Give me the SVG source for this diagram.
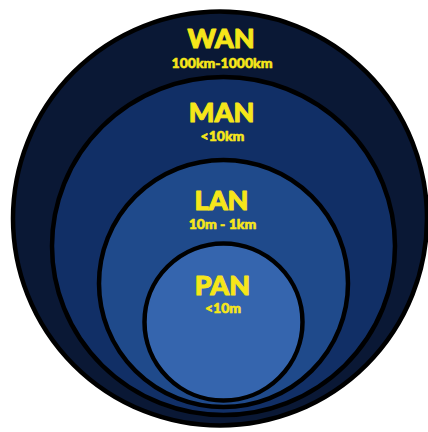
<svg xmlns="http://www.w3.org/2000/svg" width="428" height="432" viewBox="0 0 428 432">
<style>
.ring{stroke:#000;stroke-width:4.5}
.t{font-family:Lato,"Open Sans","Liberation Sans",sans-serif;font-weight:900;fill:#f6e61a;stroke:#f6e61a;text-anchor:middle;stroke-linejoin:round}
.big{font-size:27px;stroke-width:1}
.small{font-size:14px;stroke-width:0.6}
</style>
<rect width="428" height="432" fill="#ffffff"/>
<g id="wan">
<circle class="ring" cx="220" cy="218.5" r="207" fill="#0a1835"/>
<text class="t big" x="221" y="48">WAN</text>
<text class="t small" x="222" y="67.5">100km-1000km</text>
</g>
<g id="man">
<ellipse class="ring" cx="223.5" cy="246" rx="171.5" ry="169" fill="#112f66"/>
<text class="t big" x="221.5" y="122">MAN</text>
<text class="t small" x="222.5" y="141">&lt;10km</text>
</g>
<g id="lan">
<ellipse class="ring" cx="223.5" cy="283.5" rx="124.5" ry="123.5" fill="#1f4a8b"/>
<text class="t big" x="221.5" y="210">LAN</text>
<text class="t small" x="222.5" y="228.5">10m - 1km</text>
</g>
<g id="pan">
<ellipse class="ring" cx="223.5" cy="322" rx="79" ry="78.5" fill="#3565ae"/>
<text class="t big" x="222.5" y="294.5">PAN</text>
<text class="t small" x="223" y="313">&lt;10m</text>
</g>
</svg>
